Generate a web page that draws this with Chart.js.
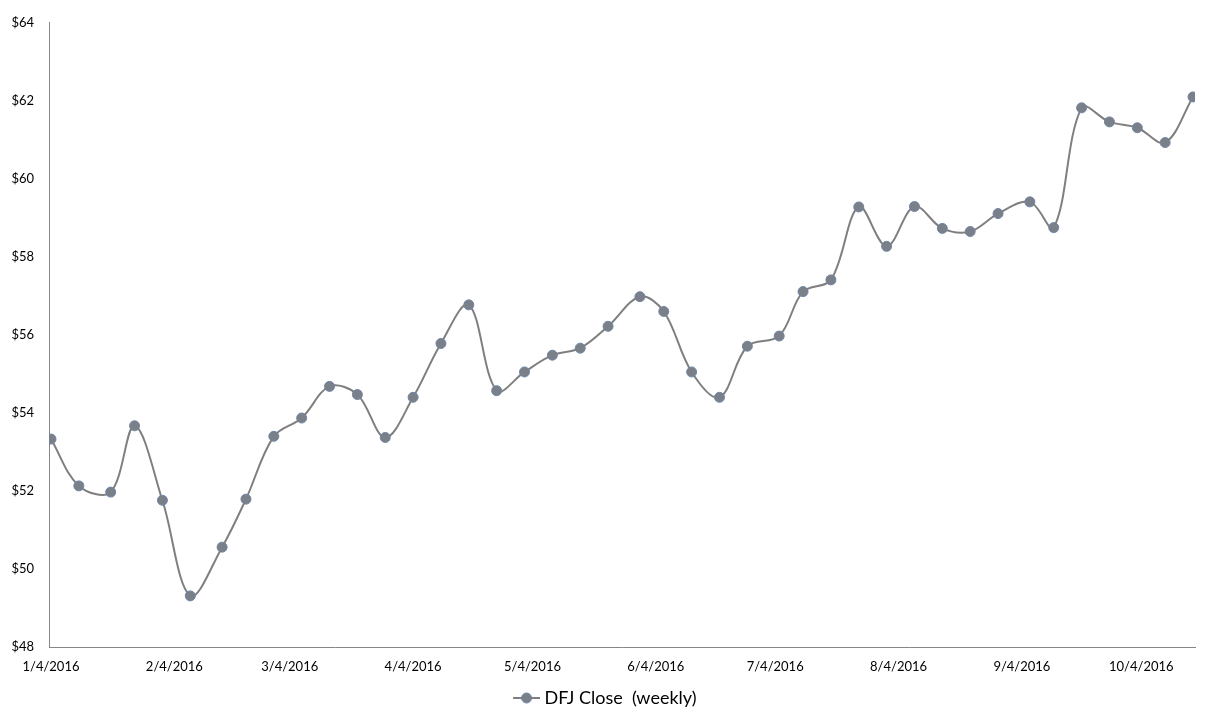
<!DOCTYPE html>
<html>
<head>
<meta charset="utf-8">
<script src="https://cdn.jsdelivr.net/npm/chart.js@4.4.1/dist/chart.umd.min.js"></script>
<style>
    html, body { margin: 0; padding: 0; background: #ffffff; }
    #wrap { width: 1210px; height: 727px; }
</style>
</head>
<body>
<div id="wrap"><canvas id="myChart" width="1210" height="727"></canvas></div>
<script>
    // weekly closes, first trading day of each week
    var weekDates = ['1/4/2016', '1/11/2016', '1/19/2016', '1/25/2016', '2/1/2016', '2/8/2016', '2/16/2016',
        '2/22/2016', '2/29/2016', '3/7/2016', '3/14/2016', '3/21/2016', '3/28/2016', '4/4/2016', '4/11/2016',
        '4/18/2016', '4/25/2016', '5/2/2016', '5/9/2016', '5/16/2016', '5/23/2016', '5/31/2016', '6/6/2016',
        '6/13/2016', '6/20/2016', '6/27/2016', '7/5/2016', '7/11/2016', '7/18/2016', '7/25/2016', '8/1/2016',
        '8/8/2016', '8/15/2016', '8/22/2016', '8/29/2016', '9/6/2016', '9/12/2016', '9/19/2016', '9/26/2016',
        '10/3/2016', '10/10/2016', '10/17/2016'];
    var closes = [53.33, 52.13, 51.97, 53.67, 51.76, 49.31, 50.56, 51.79, 53.40, 53.87,
        54.68, 54.47, 53.37, 54.40, 55.78, 56.77, 54.57, 55.05, 55.48, 55.66,
        56.22, 56.98, 56.60, 55.05, 54.40, 55.71, 55.97, 57.11, 57.41, 59.28,
        58.27, 59.29, 58.73, 58.65, 59.11, 59.41, 58.75, 61.82, 61.46, 61.31,
        60.93, 62.10];
    var tickDates = ['1/4/2016', '2/4/2016', '3/4/2016', '4/4/2016', '5/4/2016', '6/4/2016',
        '7/4/2016', '8/4/2016', '9/4/2016', '10/4/2016'];
    var yTicks = [48, 50, 52, 54, 56, 58, 60, 62, 64];
    var seriesName = 'DFJ Close  (weekly)';

    var lineColor = '#7f7f7f';
    var markerFill = '#7b7f88';
    var markerBorder = '#6f86a6';
    var fontName = 'Lato';

    function dayNum(s) {
        var p = s.split('/');
        return Date.UTC(Number(p[2]), Number(p[0]) - 1, Number(p[1])) / 86400000;
    }
    var start = dayNum(weekDates[0]);
    var points = weekDates.map(function (d, i) {
        return { x: dayNum(d) - start, y: closes[i] };
    });
    var tickPos = tickDates.map(function (d) { return dayNum(d) - start; });
    var lastDay = dayNum(weekDates[weekDates.length - 1]) - start;

    // legend symbol: short line with a marker on it.
    // the box is made wide and the symbol sits in its right part, so the
    // whole legend item lands centred on the page rather than on the plot
    var marker = document.createElement('canvas');
    marker.width = 56;
    marker.height = 12;
    var mc = marker.getContext('2d');
    mc.strokeStyle = lineColor;
    mc.lineWidth = 2;
    mc.beginPath();
    mc.moveTo(24, 6);
    mc.lineTo(51, 6);
    mc.stroke();
    mc.beginPath();
    mc.arc(37.5, 6, 5, 0, Math.PI * 2);
    mc.fillStyle = markerFill;
    mc.fill();
    mc.lineWidth = 1;
    mc.strokeStyle = markerBorder;
    mc.stroke();

    const data = {
        datasets: [
            {
                label: seriesName,
                data: points,
                borderColor: lineColor,
                borderWidth: 2,
                backgroundColor: markerFill,
                pointBackgroundColor: markerFill,
                pointBorderColor: markerBorder,
                pointBorderWidth: 1,
                pointRadius: 5,
                tension: 0.35,
                fill: false
            }
        ]
    };

    const config = {
        type: 'line',
        data: data,
        options: {
            responsive: false,
            animation: false,
            devicePixelRatio: 1,
            layout: {
                padding: { left: 0, right: 15, top: 17, bottom: 10 }
            },
            plugins: {
                tooltip: { enabled: false },
                title: { display: false },
                legend: {
                    display: true,
                    position: 'bottom',
                    labels: {
                        usePointStyle: true,
                        pointStyleWidth: 37,
                        padding: 8,
                        color: '#000000',
                        font: { family: fontName, size: 18 },
                        generateLabels: function (chart) {
                            return [{
                                text: seriesName,
                                pointStyle: marker,
                                fillStyle: markerFill,
                                strokeStyle: lineColor,
                                lineWidth: 0,
                                hidden: false,
                                datasetIndex: 0,
                                fontColor: '#000000'
                            }];
                        }
                    }
                }
            },
            scales: {
                x: {
                    type: 'linear',
                    min: -0.5,
                    max: lastDay + 0.5,
                    grid: { display: false, drawTicks: false },
                    border: { display: true, color: '#868686', width: 1 },
                    afterBuildTicks: function (scale) {
                        scale.ticks = tickPos.map(function (v) { return { value: v }; });
                    },
                    afterFit: function (scale) {
                        scale.height = 34;
                    },
                    ticks: {
                        autoSkip: false,
                        maxRotation: 0,
                        padding: 12,
                        color: '#000000',
                        font: { family: fontName, size: 13 },
                        callback: function (value) {
                            var k = tickPos.indexOf(value);
                            return k >= 0 ? tickDates[k] : '';
                        }
                    }
                },
                y: {
                    min: yTicks[0],
                    max: yTicks[yTicks.length - 1],
                    grid: { display: false, drawTicks: false },
                    border: { display: true, color: '#868686', width: 1 },
                    afterBuildTicks: function (scale) {
                        scale.ticks = yTicks.map(function (v) { return { value: v }; });
                    },
                    afterFit: function (scale) {
                        scale.width = 49;
                    },
                    ticks: {
                        padding: 15,
                        color: '#000000',
                        font: { family: fontName, size: 13 },
                        callback: function (value) { return '$' + value; }
                    }
                }
            }
        }
    };

    var ctx = document.getElementById('myChart').getContext('2d');
    var myChart = new Chart(ctx, config);
</script>
</body>
</html>
